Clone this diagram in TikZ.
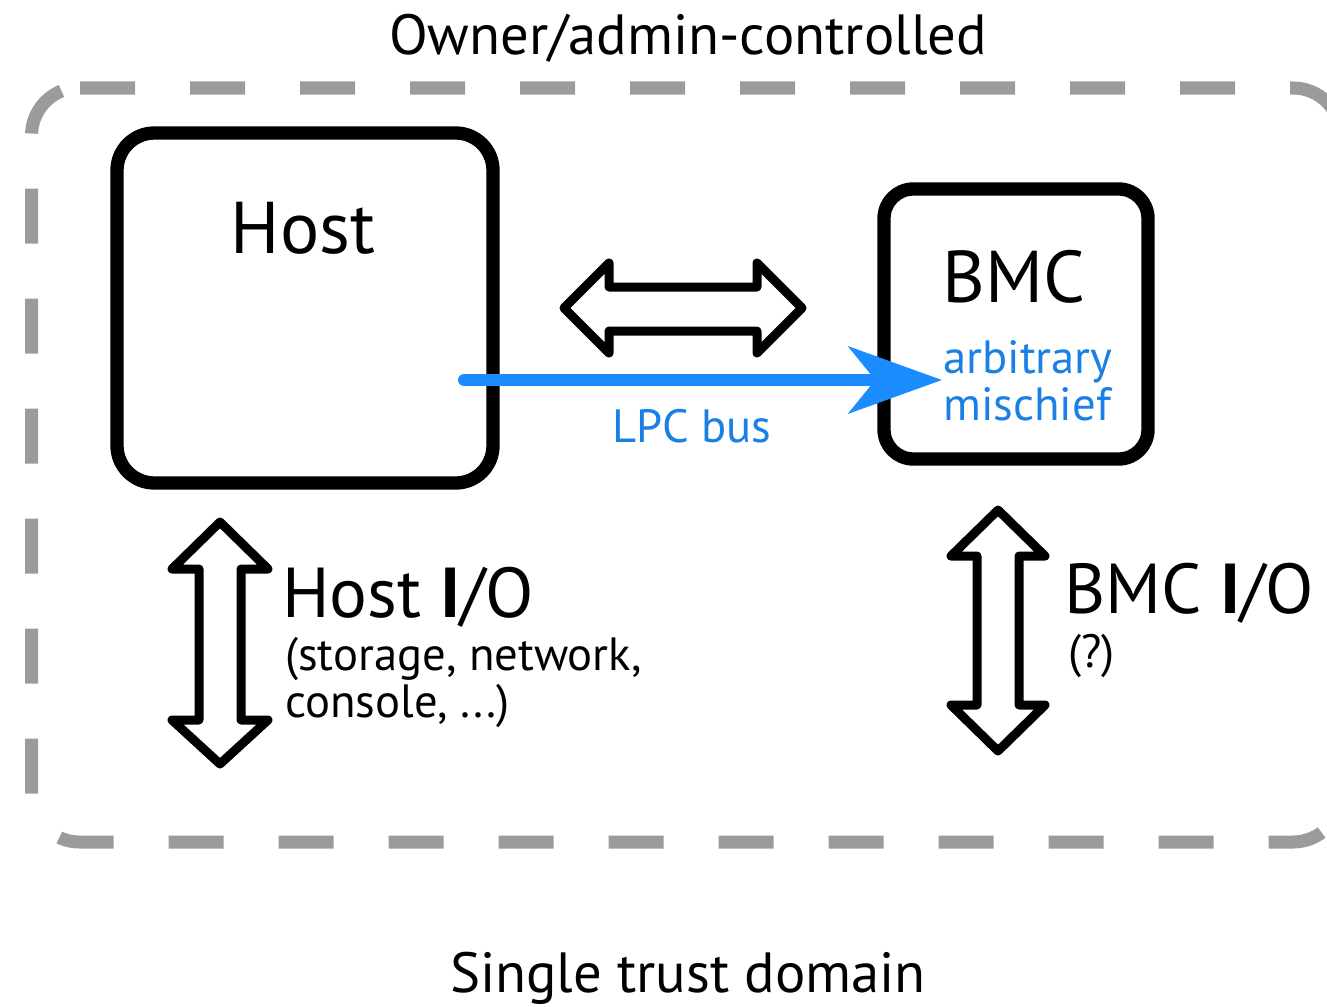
\documentclass[tikz,border=0pt]{standalone}
\usepackage{fontspec}
\setmainfont{PT Sans}
\usetikzlibrary{arrows.meta,calc}

\definecolor{bordergray}{HTML}{9B9B9B}
\definecolor{lpcblue}{HTML}{1A8CFF}
\definecolor{labelblue}{HTML}{1A80E5}

\tikzset{
  boxshape/.style={draw=black, line width=10pt, inner sep=0pt},
  trustborder/.style={draw=bordergray, line width=9.75pt, dash pattern=on 41.25pt off 41.25pt},
  hollowarrow/.style={draw=black, fill=white, line width=6.75pt, line join=round},
  bigtext/.style={font=\fontsize{55}{60}\selectfont, inner sep=0pt},
  iotext/.style={font=\fontsize{53}{58}\selectfont, inner sep=0pt},
  titletext/.style={font=\fontsize{42.5}{48}\selectfont, inner sep=0pt},
  smalltext/.style={font=\fontsize{35}{40}\selectfont, inner sep=0pt},
  lpcline/.style={draw=lpcblue, line width=9pt, line cap=round},
}

\begin{document}
\begin{tikzpicture}[x=0.75pt, y=-0.75pt]
  \useasboundingbox (0,0) rectangle (1327,1006);

  % dashed outline of the trust domain (right side runs past the edge)
  \draw[trustborder] ($(79.5,135.5)+(-112:48)$) arc[start angle=-112, end angle=-180, radius=48]
    -- (31.5,794) arc[start angle=180, end angle=90, radius=48]
    -- (1293,842) arc[start angle=90, end angle=0, radius=48] -- (1341,400);
  \draw[trustborder] (80,88) -- (1293,88) arc[start angle=-90, end angle=0, radius=48] -- (1341,400);

  \node[titletext, anchor=base] (owner) at (688,55) {Owner/admin-controlled};
  \node[titletext, anchor=base] (domain) at (688,992) {Single trust domain};

  % the two machines
  \node[boxshape, minimum width=282pt, minimum height=262.5pt, rounded corners=28pt] (host) at (305,308) {};
  \node[bigtext, anchor=base] (hostlabel) at (303,253) {Host};

  \node[boxshape, minimum width=198pt, minimum height=202.5pt, rounded corners=22pt] (bmc) at (1016,324) {};
  \node[bigtext, anchor=base] (bmclabel) at (1014,302) {BMC};

  % two-way link between host and BMC
  \draw[hollowarrow] (564,308) -- (609,263) -- (609,287) -- (757,287) -- (757,263)
    -- (802,308) -- (757,353) -- (757,331) -- (609,331) -- (609,353) -- cycle;

  % LPC bus
  \coordinate (lpcstart) at (464,380);
  \coordinate (lpcend) at (942,380);
  \draw[lpcline, -{Stealth[length=70pt, width=50pt, inset=20pt]}] (lpcstart) -- (lpcend);
  \node[smalltext, text=labelblue, anchor=base] (lpclabel) at (692,442) {LPC bus};
  \node[smalltext, text=labelblue, anchor=base west] (mischief1) at (943,373) {arbitrary};
  \node[smalltext, text=labelblue, anchor=base west] (mischief2) at (943,420) {mischief};

  % host I/O
  \draw[hollowarrow] (220,522) -- (268,569) -- (241,569) -- (241,720) -- (268,720)
    -- (220,764) -- (172,720) -- (199,720) -- (199,569) -- (172,569) -- cycle;
  \node[iotext, anchor=base west] (hostio) at (282,617) {Host {\bfseries I}/O};
  \node[smalltext, anchor=base west] (hostio1) at (285,670) {(storage, network,};
  \node[smalltext, anchor=base west] (hostio2) at (285,717) {console, ...)};

  % BMC I/O
  \draw[hollowarrow] (998,510) -- (1045,556) -- (1019,556) -- (1019,705) -- (1045,705)
    -- (998,751) -- (951,705) -- (977,705) -- (977,556) -- (951,556) -- cycle;
  \node[iotext, anchor=base west] (bmcio) at (1064,613) {BMC {\bfseries I}/O};
  \node[smalltext, anchor=base west] (bmcio1) at (1068,667) {(?)};
\end{tikzpicture}
\end{document}
